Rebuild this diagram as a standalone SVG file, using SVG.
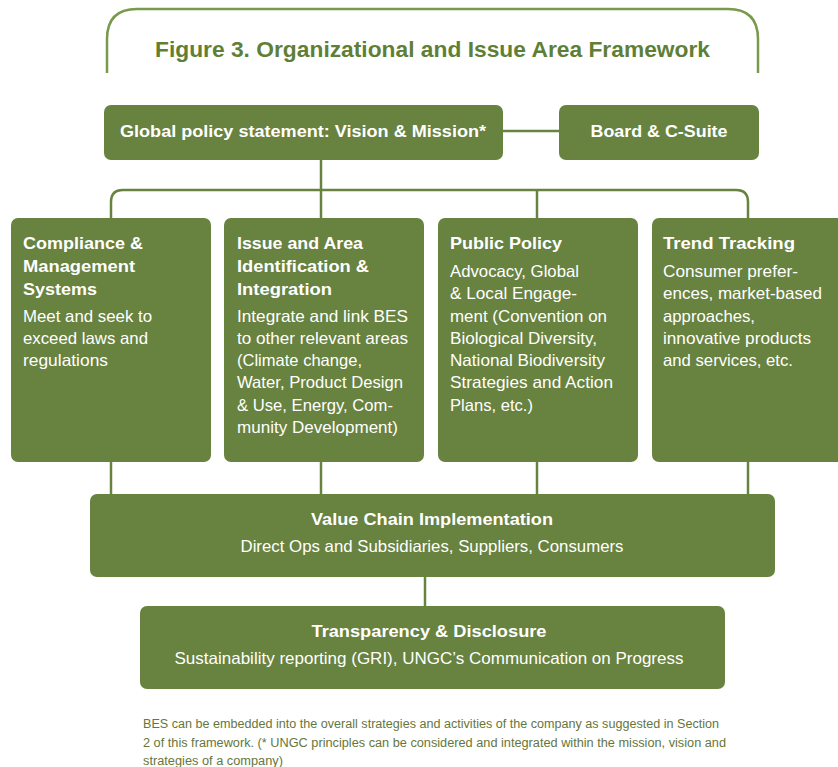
<svg xmlns="http://www.w3.org/2000/svg" width="838" height="767" viewBox="0 0 838 767">
  <style>
    .box { fill: #68823f; }
    .wire { fill: none; stroke: #68823f; stroke-width: 2.5; }
    .frame { fill: none; stroke: #789a4c; stroke-width: 2.5; }
    .title { font-family: "Liberation Sans", Arial, sans-serif; font-weight: bold; font-size: 22px; fill: #5f7f36; }
    .h { font-family: "Liberation Sans", Arial, sans-serif; font-weight: bold; font-size: 17px; fill: #ffffff; }
    .hc { font-family: "Liberation Sans", Arial, sans-serif; font-weight: bold; font-size: 16px; fill: #ffffff; text-anchor: middle; }
    .b { font-family: "Liberation Sans", Arial, sans-serif; font-size: 16.5px; fill: #ffffff; }
    .bc { font-family: "Liberation Sans", Arial, sans-serif; font-size: 16.5px; fill: #ffffff; text-anchor: middle; }
    .note { font-family: "Liberation Sans", Arial, sans-serif; font-size: 12.5px; fill: #66763a; }
  </style>

  <!-- title frame -->
  <path class="frame" d="M107,73 V39 Q107,9 137,9 H728 Q758,9 758,39 V73"/>
  <text class="title" x="155" y="57" textLength="555" lengthAdjust="spacingAndGlyphs">Figure 3. Organizational and Issue Area Framework</text>

  <!-- connectors -->
  <g id="connectors">
    <line class="wire" x1="503" y1="131" x2="559" y2="131"/>
    <line class="wire" x1="321" y1="160" x2="321" y2="218"/>
    <path class="wire" d="M111,218 V202 Q111,190 123,190 H736 Q748,190 748,202 V218"/>
    <line class="wire" x1="537" y1="190" x2="537" y2="218"/>
    <line class="wire" x1="111" y1="462" x2="111" y2="494"/>
    <line class="wire" x1="321" y1="462" x2="321" y2="494"/>
    <line class="wire" x1="537" y1="462" x2="537" y2="494"/>
    <line class="wire" x1="748" y1="462" x2="748" y2="494"/>
    <line class="wire" x1="425" y1="577" x2="425" y2="606"/>
  </g>

  <g id="global-policy">
    <rect class="box" x="104" y="105" width="399" height="55" rx="7"/>
    <text class="hc" x="303" y="137" textLength="366" lengthAdjust="spacingAndGlyphs">Global policy statement: Vision &amp; Mission*</text>
  </g>

  <g id="board">
    <rect class="box" x="559" y="105" width="200" height="55" rx="7"/>
    <text class="hc" x="659" y="137" textLength="137" lengthAdjust="spacingAndGlyphs">Board &amp; C-Suite</text>
  </g>

  <g id="compliance">
    <rect class="box" x="11" y="218" width="200" height="244" rx="7"/>
    <text class="h" x="23" y="249" textLength="120" lengthAdjust="spacingAndGlyphs">Compliance &amp;</text>
    <text class="h" x="23" y="272" textLength="112" lengthAdjust="spacingAndGlyphs">Management</text>
    <text class="h" x="23" y="295" textLength="74" lengthAdjust="spacingAndGlyphs">Systems</text>
    <text class="b" x="23" y="322" textLength="129" lengthAdjust="spacingAndGlyphs">Meet and seek to</text>
    <text class="b" x="23" y="344" textLength="125" lengthAdjust="spacingAndGlyphs">exceed laws and</text>
    <text class="b" x="23" y="366" textLength="85" lengthAdjust="spacingAndGlyphs">regulations</text>
  </g>

  <g id="issue-area">
    <rect class="box" x="224" y="218" width="200" height="244" rx="7"/>
    <text class="h" x="237" y="249" textLength="126" lengthAdjust="spacingAndGlyphs">Issue and Area</text>
    <text class="h" x="237" y="272" textLength="132" lengthAdjust="spacingAndGlyphs">Identification &amp;</text>
    <text class="h" x="237" y="295" textLength="95" lengthAdjust="spacingAndGlyphs">Integration</text>
    <text class="b" x="237" y="322" textLength="171" lengthAdjust="spacingAndGlyphs">Integrate and link BES</text>
    <text class="b" x="237" y="344" textLength="171" lengthAdjust="spacingAndGlyphs">to other relevant areas</text>
    <text class="b" x="237" y="366" textLength="125" lengthAdjust="spacingAndGlyphs">(Climate change,</text>
    <text class="b" x="237" y="388" textLength="166" lengthAdjust="spacingAndGlyphs">Water, Product Design</text>
    <text class="b" x="237" y="411" textLength="156" lengthAdjust="spacingAndGlyphs">&amp; Use, Energy, Com-</text>
    <text class="b" x="237" y="433" textLength="161" lengthAdjust="spacingAndGlyphs">munity Development)</text>
  </g>

  <g id="public-policy">
    <rect class="box" x="438" y="218" width="200" height="244" rx="7"/>
    <text class="h" x="450" y="249" textLength="112" lengthAdjust="spacingAndGlyphs">Public Policy</text>
    <text class="b" x="450" y="277" textLength="129" lengthAdjust="spacingAndGlyphs">Advocacy, Global</text>
    <text class="b" x="450" y="299" textLength="127" lengthAdjust="spacingAndGlyphs">&amp; Local Engage-</text>
    <text class="b" x="450" y="322" textLength="157" lengthAdjust="spacingAndGlyphs">ment (Convention on</text>
    <text class="b" x="450" y="344" textLength="147" lengthAdjust="spacingAndGlyphs">Biological Diversity,</text>
    <text class="b" x="450" y="366" textLength="155" lengthAdjust="spacingAndGlyphs">National Biodiversity</text>
    <text class="b" x="450" y="388" textLength="163" lengthAdjust="spacingAndGlyphs">Strategies and Action</text>
    <text class="b" x="450" y="411" textLength="83" lengthAdjust="spacingAndGlyphs">Plans, etc.)</text>
  </g>

  <g id="trend-tracking">
    <rect class="box" x="652" y="218" width="200" height="244" rx="7"/>
    <text class="h" x="663" y="249" textLength="132" lengthAdjust="spacingAndGlyphs">Trend Tracking</text>
    <text class="b" x="663" y="277" textLength="135" lengthAdjust="spacingAndGlyphs">Consumer prefer-</text>
    <text class="b" x="663" y="299" textLength="159" lengthAdjust="spacingAndGlyphs">ences, market-based</text>
    <text class="b" x="663" y="322" textLength="92" lengthAdjust="spacingAndGlyphs">approaches,</text>
    <text class="b" x="663" y="344" textLength="148" lengthAdjust="spacingAndGlyphs">innovative products</text>
    <text class="b" x="663" y="366" textLength="130" lengthAdjust="spacingAndGlyphs">and services, etc.</text>
  </g>

  <g id="value-chain">
    <rect class="box" x="90" y="494" width="685" height="83" rx="7"/>
    <text class="hc" x="432" y="525" textLength="242" lengthAdjust="spacingAndGlyphs">Value Chain Implementation</text>
    <text class="bc" x="432" y="552" textLength="383" lengthAdjust="spacingAndGlyphs">Direct Ops and Subsidiaries, Suppliers, Consumers</text>
  </g>

  <g id="transparency">
    <rect class="box" x="140" y="606" width="585" height="83" rx="7"/>
    <text class="hc" x="429" y="637" textLength="235" lengthAdjust="spacingAndGlyphs">Transparency &amp; Disclosure</text>
    <text class="bc" x="429" y="664" textLength="509" lengthAdjust="spacingAndGlyphs">Sustainability reporting (GRI), UNGC’s Communication on Progress</text>
  </g>

  <!-- footnote -->
  <text class="note" x="143" y="728" textLength="576" lengthAdjust="spacingAndGlyphs">BES can be embedded into the overall strategies and activities of the company as suggested in Section</text>
  <text class="note" x="143" y="747" textLength="583" lengthAdjust="spacingAndGlyphs">2 of this framework. (* UNGC principles can be considered and integrated within the mission, vision and</text>
  <text class="note" x="143" y="765" textLength="140" lengthAdjust="spacingAndGlyphs">strategies of a company)</text>
</svg>
